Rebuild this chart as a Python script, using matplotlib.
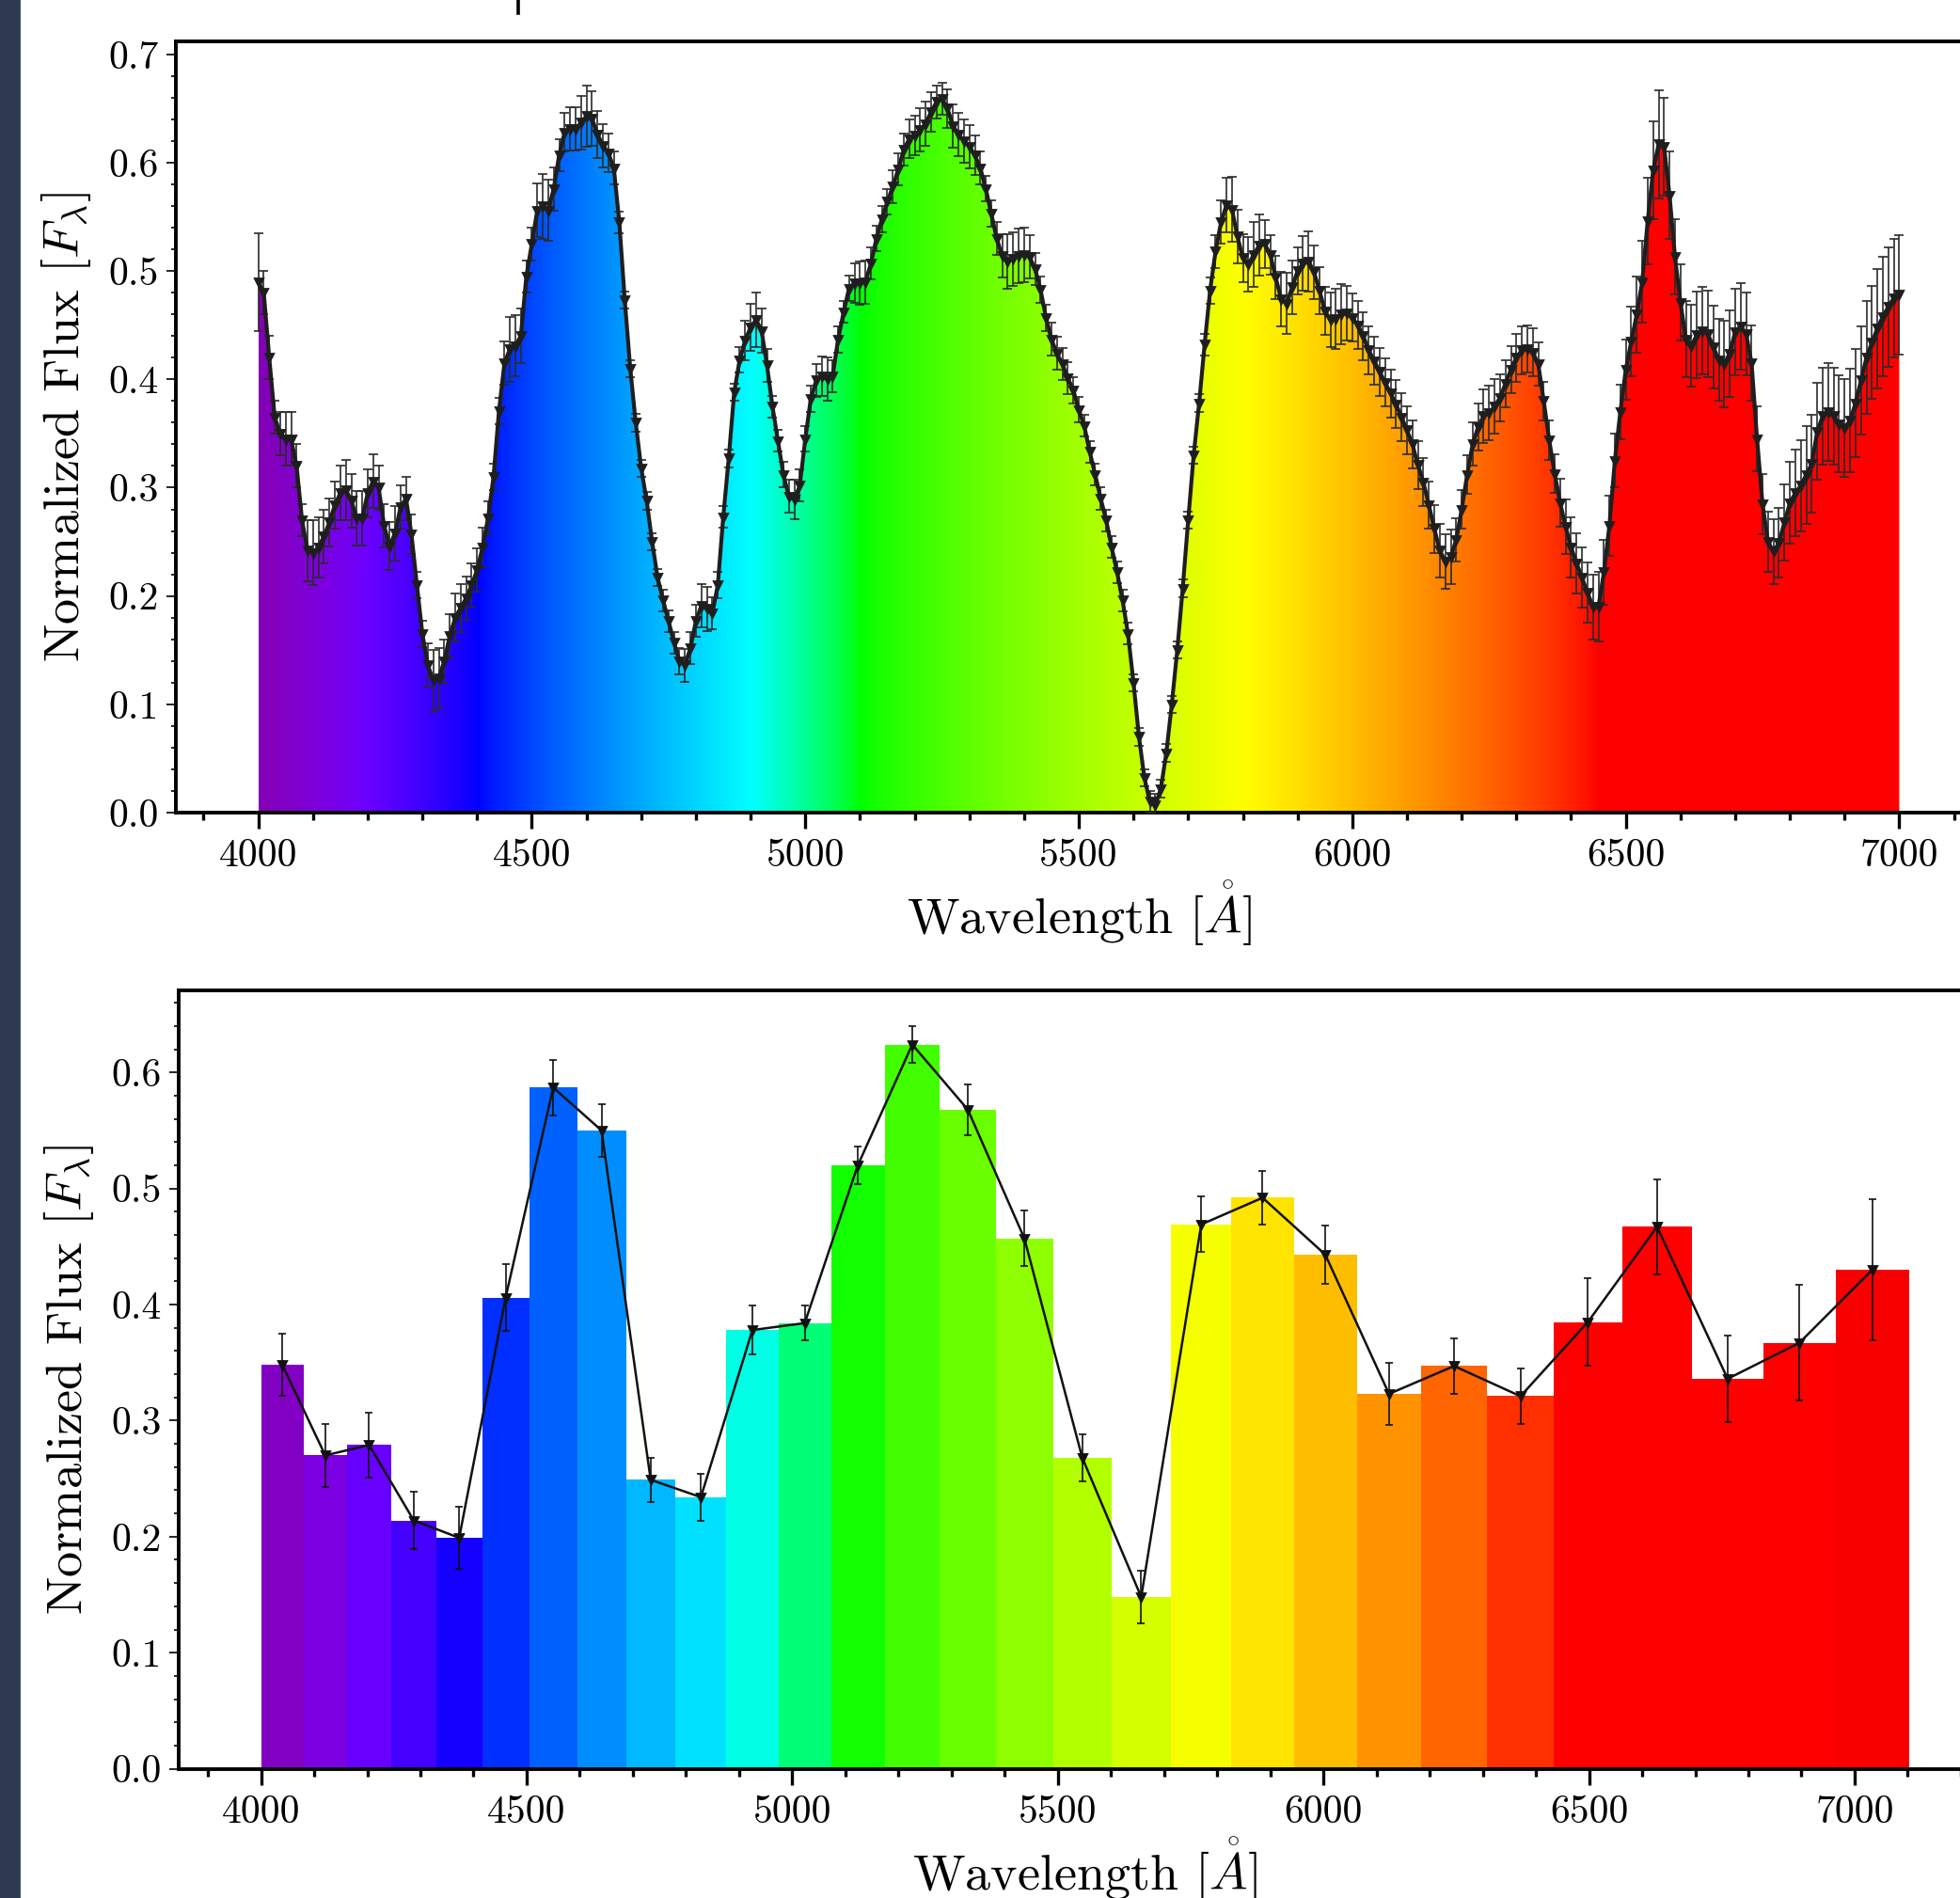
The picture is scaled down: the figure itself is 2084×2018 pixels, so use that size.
import numpy as np
import matplotlib
matplotlib.use('Agg')
import matplotlib.pyplot as plt
from matplotlib.patches import Polygon, Rectangle
from matplotlib.lines import Line2D
from matplotlib.ticker import MultipleLocator, FormatStrFormatter

plt.rcParams['font.family'] = 'serif'
plt.rcParams['font.serif'] = ['cmr10']
plt.rcParams['mathtext.fontset'] = 'cm'
plt.rcParams['axes.unicode_minus'] = False

font_size = 15
label_size = 19.5

# ---- top panel: spectrum, one point every 10 A from 4000 to 7000
wave = np.arange(4000, 7001, 10)
flux = [
    0.490, 0.480, 0.420, 0.365, 0.350, 0.345, 0.345, 0.320, 0.270, 0.242,
    0.240, 0.245, 0.255, 0.268, 0.284, 0.295, 0.298, 0.288, 0.272, 0.272,
    0.295, 0.306, 0.300, 0.265, 0.246, 0.258, 0.282, 0.290, 0.257, 0.210,
    0.165, 0.136, 0.122, 0.124, 0.140, 0.163, 0.180, 0.189, 0.198, 0.210,
    0.224, 0.245, 0.272, 0.310, 0.371, 0.415, 0.428, 0.431, 0.440, 0.495,
    0.525, 0.556, 0.560, 0.556, 0.576, 0.607, 0.628, 0.631, 0.631, 0.637,
    0.643, 0.641, 0.626, 0.616, 0.609, 0.595, 0.545, 0.473, 0.410, 0.360,
    0.318, 0.288, 0.250, 0.217, 0.196, 0.177, 0.157, 0.140, 0.136, 0.152,
    0.177, 0.191, 0.188, 0.184, 0.210, 0.273, 0.327, 0.388, 0.418, 0.436,
    0.448, 0.455, 0.445, 0.413, 0.375, 0.343, 0.312, 0.292, 0.289, 0.302,
    0.345, 0.382, 0.399, 0.403, 0.400, 0.403, 0.437, 0.462, 0.484, 0.489,
    0.489, 0.490, 0.507, 0.530, 0.548, 0.564, 0.578, 0.594, 0.612, 0.622,
    0.625, 0.630, 0.636, 0.647, 0.656, 0.659, 0.650, 0.634, 0.626, 0.620,
    0.615, 0.607, 0.595, 0.576, 0.553, 0.530, 0.514, 0.509, 0.511, 0.514,
    0.515, 0.513, 0.502, 0.483, 0.457, 0.437, 0.424, 0.414, 0.401, 0.390,
    0.372, 0.357, 0.333, 0.312, 0.290, 0.270, 0.245, 0.222, 0.196, 0.165,
    0.120, 0.070, 0.032, 0.010, 0.007, 0.022, 0.055, 0.100, 0.150, 0.207,
    0.270, 0.330, 0.378, 0.432, 0.482, 0.518, 0.545, 0.561, 0.557, 0.532,
    0.512, 0.506, 0.515, 0.524, 0.525, 0.515, 0.494, 0.474, 0.470, 0.485,
    0.500, 0.507, 0.509, 0.499, 0.482, 0.463, 0.455, 0.456, 0.460, 0.461,
    0.457, 0.450, 0.440, 0.427, 0.417, 0.407, 0.397, 0.387, 0.377, 0.365,
    0.353, 0.340, 0.321, 0.305, 0.284, 0.262, 0.242, 0.232, 0.236, 0.252,
    0.280, 0.312, 0.340, 0.356, 0.366, 0.369, 0.375, 0.383, 0.396, 0.409,
    0.420, 0.427, 0.428, 0.425, 0.414, 0.380, 0.344, 0.313, 0.286, 0.264,
    0.245, 0.230, 0.217, 0.203, 0.190, 0.190, 0.222, 0.265, 0.325, 0.370,
    0.409, 0.435, 0.460, 0.490, 0.546, 0.593, 0.617, 0.615, 0.570, 0.513,
    0.471, 0.437, 0.431, 0.441, 0.445, 0.442, 0.430, 0.418, 0.414, 0.424,
    0.444, 0.449, 0.442, 0.415, 0.345, 0.285, 0.250, 0.241, 0.249, 0.268,
    0.286, 0.295, 0.302, 0.312, 0.322, 0.352, 0.366, 0.370, 0.366, 0.359,
    0.355, 0.362, 0.378, 0.399, 0.420, 0.434, 0.447, 0.458, 0.467, 0.475,
    0.478,
]
flux_err = [
    0.045, 0.020, 0.020, 0.015, 0.020, 0.025, 0.025, 0.020, 0.015, 0.028,
    0.030, 0.028, 0.025, 0.022, 0.022, 0.025, 0.028, 0.025, 0.025, 0.025,
    0.022, 0.025, 0.020, 0.020, 0.022, 0.025, 0.020, 0.020, 0.018, 0.012,
    0.012, 0.020, 0.028, 0.028, 0.020, 0.020, 0.022, 0.022, 0.020, 0.020,
    0.020, 0.018, 0.015, 0.012, 0.012, 0.020, 0.030, 0.028, 0.025, 0.015,
    0.015, 0.025, 0.030, 0.028, 0.020, 0.015, 0.018, 0.020, 0.020, 0.025,
    0.028, 0.025, 0.022, 0.020, 0.018, 0.015, 0.010, 0.008, 0.008, 0.008,
    0.008, 0.008, 0.008, 0.008, 0.010, 0.010, 0.010, 0.012, 0.015, 0.015,
    0.015, 0.020, 0.020, 0.015, 0.012, 0.010, 0.008, 0.008, 0.012, 0.018,
    0.022, 0.025, 0.020, 0.015, 0.010, 0.010, 0.012, 0.015, 0.018, 0.015,
    0.012, 0.012, 0.015, 0.018, 0.020, 0.015, 0.012, 0.010, 0.012, 0.018,
    0.020, 0.020, 0.015, 0.012, 0.012, 0.012, 0.015, 0.015, 0.015, 0.018,
    0.018, 0.020, 0.020, 0.018, 0.015, 0.015, 0.018, 0.020, 0.020, 0.020,
    0.020, 0.018, 0.015, 0.012, 0.012, 0.015, 0.020, 0.025, 0.025, 0.025,
    0.025, 0.020, 0.015, 0.012, 0.012, 0.015, 0.015, 0.015, 0.015, 0.012,
    0.012, 0.010, 0.010, 0.010, 0.010, 0.010, 0.010, 0.010, 0.010, 0.010,
    0.008, 0.008, 0.008, 0.010, 0.010, 0.008, 0.008, 0.008, 0.008, 0.008,
    0.008, 0.008, 0.008, 0.010, 0.012, 0.015, 0.020, 0.025, 0.030, 0.025,
    0.022, 0.025, 0.030, 0.028, 0.022, 0.018, 0.020, 0.025, 0.028, 0.025,
    0.022, 0.025, 0.028, 0.025, 0.022, 0.022, 0.025, 0.028, 0.028, 0.025,
    0.022, 0.022, 0.022, 0.022, 0.022, 0.022, 0.022, 0.022, 0.022, 0.022,
    0.022, 0.022, 0.022, 0.022, 0.022, 0.022, 0.025, 0.025, 0.025, 0.020,
    0.018, 0.018, 0.020, 0.022, 0.025, 0.025, 0.025, 0.022, 0.022, 0.022,
    0.022, 0.022, 0.022, 0.022, 0.020, 0.018, 0.018, 0.018, 0.022, 0.025,
    0.028, 0.028, 0.028, 0.028, 0.030, 0.032, 0.030, 0.028, 0.025, 0.025,
    0.028, 0.032, 0.035, 0.038, 0.040, 0.045, 0.050, 0.045, 0.040, 0.035,
    0.035, 0.035, 0.038, 0.040, 0.040, 0.040, 0.038, 0.038, 0.040, 0.040,
    0.040, 0.040, 0.038, 0.035, 0.030, 0.028, 0.028, 0.030, 0.032, 0.035,
    0.038, 0.040, 0.042, 0.045, 0.045, 0.045, 0.045, 0.045, 0.045, 0.045,
    0.045, 0.048, 0.050, 0.050, 0.052, 0.052, 0.055, 0.055, 0.055, 0.055,
    0.055,
]

# ---- bottom panel: binned spectrum
bin_edges = [4000, 4080, 4162, 4245, 4330, 4416, 4505, 4595, 4687, 4780,
             4876, 4974, 5073, 5174, 5278, 5383, 5491, 5601, 5713, 5827,
             5944, 6063, 6184, 6308, 6434, 6562, 6694, 6828, 6964, 7103]
bin_flux = [0.348, 0.270, 0.279, 0.214, 0.199, 0.406, 0.587, 0.550, 0.249,
            0.234, 0.378, 0.384, 0.520, 0.624, 0.568, 0.457, 0.268, 0.148,
            0.469, 0.492, 0.443, 0.323, 0.347, 0.321, 0.385, 0.467, 0.336,
            0.367, 0.430]
bin_err = [0.027, 0.027, 0.028, 0.025, 0.027, 0.029, 0.024, 0.023, 0.019,
           0.020, 0.021, 0.015, 0.016, 0.016, 0.022, 0.024, 0.020, 0.023,
           0.024, 0.023, 0.025, 0.027, 0.024, 0.024, 0.038, 0.041, 0.037,
           0.050, 0.061]


def wavelength_to_rgb(wl, gamma=0.8):
    w = wl / 10.0
    if w < 440:
        r, g, b = (440 - w) / 60, 0.0, 1.0
    elif w < 490:
        r, g, b = 0.0, (w - 440) / 50, 1.0
    elif w < 510:
        r, g, b = 0.0, 1.0, (510 - w) / 20
    elif w < 580:
        r, g, b = (w - 510) / 70, 1.0, 0.0
    elif w < 645:
        r, g, b = 1.0, (645 - w) / 65, 0.0
    else:
        r, g, b = 1.0, 0.0, 0.0
    if w < 420:
        f = 0.3 + 0.7 * (w - 380) / 40
    elif w > 700:
        f = 0.3 + 0.7 * (780 - w) / 80
    else:
        f = 1.0
    return ((r * f) ** gamma, (g * f) ** gamma, (b * f) ** gamma)


def style_axes(ax, ymax):
    ax.set_ylim(0, ymax)
    ax.xaxis.set_major_locator(MultipleLocator(500))
    ax.xaxis.set_minor_locator(MultipleLocator(100))
    ax.yaxis.set_major_locator(MultipleLocator(0.1))
    ax.yaxis.set_minor_locator(MultipleLocator(0.02))
    ax.yaxis.set_major_formatter(FormatStrFormatter('%.1f'))
    ax.tick_params(axis='x', which='major', direction='out', length=6, width=1.2,
                   labelsize=font_size, pad=4)
    ax.tick_params(axis='x', which='minor', direction='out', length=3, width=1.2)
    ax.tick_params(axis='y', which='major', direction='out', length=3.6, width=0.6,
                   labelsize=font_size, pad=3)
    ax.tick_params(axis='y', which='minor', direction='out', length=1.8, width=0.6)
    ax.tick_params(top=False, right=False, which='both')
    for s in ax.spines.values():
        s.set_linewidth(1.4)
    ax.set_ylabel(r'Normalized Flux $[F_\lambda]$', fontsize=label_size, labelpad=6)
    ax.set_xlabel(r'Wavelength $[\mathring{A}]$', fontsize=label_size, labelpad=2)


W, H = 2084, 2018
fig = plt.figure(figsize=(W / 200, H / 200), dpi=200)

# dark strip on the left edge of the screenshot and a stray tick on top
fig.patches.append(Rectangle((0, 0), 20 / W, 1, transform=fig.transFigure,
                             color='#2d3a4f', zorder=10))
fig.lines.append(Line2D([551 / W, 551 / W], [1, 1 - 14 / H], transform=fig.transFigure,
                        color='black', lw=1.3))

# ---- top panel
x0_top, x1_top = 3850, 7150
ax1 = fig.add_axes([187.4 / W, 1 - 864 / H, (x1_top - x0_top) * 0.5816 / W, (864 - 44) / H])
ax1.set_xlim(x0_top, x1_top)

verts = [(wave[0], 0)] + list(zip(wave, flux)) + [(wave[-1], 0)]
poly = Polygon(verts, closed=True, facecolor='none', edgecolor='none')
ax1.add_patch(poly)
grad_w = np.linspace(wave[0], wave[-1], 1200)
grad = np.array([[wavelength_to_rgb(w) for w in grad_w]])
im = ax1.imshow(grad, extent=(wave[0], wave[-1], 0, 0.72), aspect='auto',
                interpolation='bilinear', origin='lower', zorder=1)
im.set_clip_path(poly)
ax1.errorbar(wave, flux, yerr=flux_err, fmt='-v', color='#1e1e1e', lw=1.5, ms=3.0,
             ecolor='#2b2b2b', elinewidth=0.6, capsize=1.8, capthick=0.6, zorder=3)
style_axes(ax1, 0.712)

# ---- bottom panel
x0_bot, x1_bot = 3845, 7258
ax2 = fig.add_axes([190 / W, 1 - 1880.6 / H, (x1_bot - x0_bot) * 0.5648 / W, (1880.6 - 1052.6) / H])
ax2.set_xlim(x0_bot, x1_bot)
edges = np.array(bin_edges, dtype=float)
centers = 0.5 * (edges[:-1] + edges[1:])
widths = np.diff(edges)
bar_colors = [wavelength_to_rgb(c) for c in centers]
ax2.bar(edges[:-1], bin_flux, width=widths, align='edge', color=bar_colors,
        linewidth=0, zorder=1)
ax2.errorbar(centers, bin_flux, yerr=bin_err, fmt='-v', color='#111111', lw=0.9, ms=2.6,
             ecolor='#111111', elinewidth=0.6, capsize=1.6, capthick=0.6, zorder=3)
style_axes(ax2, 0.671)

plt.savefig('out.png', dpi=200)
